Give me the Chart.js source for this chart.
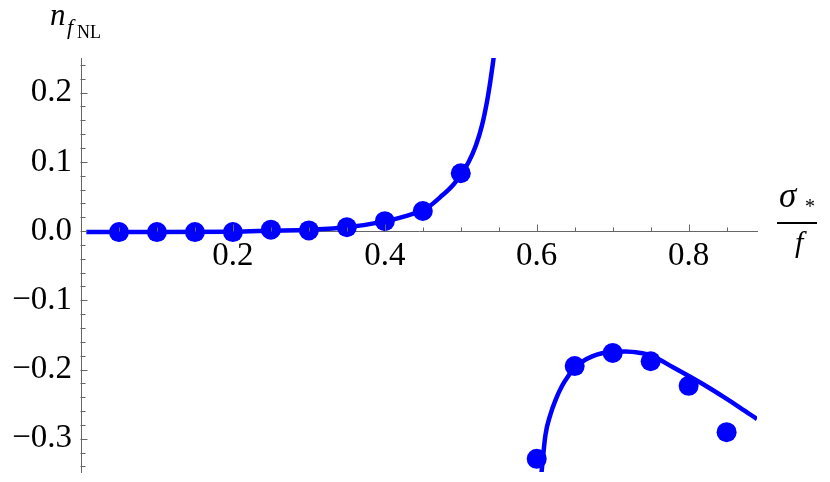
<!DOCTYPE html>
<html>
<head>
<meta charset="utf-8">
<script src="https://cdn.jsdelivr.net/npm/chart.js@4/dist/chart.umd.min.js"></script>
<style>
  html, body { margin: 0; padding: 0; background: #fff; }
  #wrap { width: 830px; height: 482px; }
</style>
</head>
<body>
<div id="wrap"><canvas id="nfnlChart" width="830" height="482"></canvas></div>
<script>
// simulated points, small sigma branch and large sigma branch
const pointX1 = [0.05, 0.1, 0.15, 0.2, 0.25, 0.3, 0.35, 0.4, 0.45, 0.5];
const pointY1 = [-0.0015, -0.0015, -0.0015, -0.0015, 0.002, 0.001, 0.0055, 0.0143, 0.029, 0.0835];
const pointX2 = [0.6, 0.65, 0.7, 0.75, 0.8, 0.85];
const pointY2 = [-0.329, -0.195, -0.176, -0.188, -0.2235, -0.2905];

// analytic curves
const curveX1 = [0.007, 0.1, 0.2, 0.25, 0.3, 0.35, 0.4, 0.425, 0.45, 0.46, 0.473, 0.489, 0.5, 0.51, 0.52, 0.528, 0.535, 0.539, 0.542, 0.545];
const curveY1 = [-0.0015, -0.0015, -0.001, 0.0005, 0.002, 0.0055, 0.014, 0.021, 0.03, 0.037, 0.049, 0.0655, 0.0815, 0.099, 0.124, 0.153, 0.19, 0.217, 0.24, 0.265];
const curveX2 = [0.606, 0.6114, 0.618, 0.6246, 0.6334, 0.642, 0.65, 0.66, 0.673, 0.686, 0.7, 0.717, 0.7363, 0.75, 0.78, 0.802, 0.824, 0.846, 0.868, 0.89];
const curveY2 = [-0.352, -0.295, -0.265, -0.2445, -0.2235, -0.2085, -0.1975, -0.1885, -0.181, -0.1765, -0.1742, -0.1738, -0.176, -0.1795, -0.197, -0.2105, -0.2245, -0.2395, -0.2552, -0.2715];

const xTicks = [0.2, 0.4, 0.6, 0.8];
const yTicks = [-0.3, -0.2, -0.1, 0, 0.1, 0.2];

const BLUE = '#0000ff';
const AXIS_COLOR = '#666666';
const SERIF = '"Liberation Serif", "DejaVu Serif", serif';

const toXY = (xs, ys) => xs.map((x, i) => ({ x: x, y: ys[i] }));
const fmt = v => (v < 0 ? '\u2212' : '') + Math.abs(v).toFixed(1);

// minor tick marks inside the axes + the axis titles
const axisDecor = {
    id: 'axisDecor',
    afterDatasetsDraw(chart) {
        const { ctx, scales: { x, y } } = chart;
        const x0 = Math.round(x.getPixelForValue(0)) - 0.5;
        const y0 = Math.round(y.getPixelForValue(0)) + 0.5;
        ctx.save();
        ctx.strokeStyle = AXIS_COLOR;
        ctx.lineWidth = 1;
        ctx.beginPath();
        for (let k = 1; k <= 17; k++) {
            const px = Math.round(x.getPixelForValue(k * 0.05)) + 0.5;
            const len = k % 4 === 0 ? 7 : 4;
            ctx.moveTo(px, y0);
            ctx.lineTo(px, y0 - len);
        }
        for (let k = -17; k <= 12; k++) {
            const py = Math.round(y.getPixelForValue(k * 0.02)) + 0.5;
            const len = k % 5 === 0 ? 7 : 5;
            ctx.moveTo(x0, py);
            ctx.lineTo(x0 + len, py);
        }
        ctx.stroke();

        ctx.fillStyle = '#000';
        ctx.textBaseline = 'alphabetic';
        // y title: n_{f_NL}
        ctx.font = 'italic 31px ' + SERIF;
        ctx.fillText('n', 50, 25);
        ctx.font = 'italic 22px ' + SERIF;
        ctx.fillText('f', 67, 34);
        ctx.font = '18px ' + SERIF;
        ctx.fillText('NL', 77, 38);
        // x title: sigma_* / f
        ctx.font = 'italic 35px ' + SERIF;
        ctx.fillText('\u03c3', 779, 207);
        ctx.font = '20px ' + SERIF;
        ctx.fillText('*', 805, 213);
        ctx.fillRect(777, 222, 40, 2);
        ctx.font = 'italic 30px ' + SERIF;
        ctx.fillText('f', 795, 252);
        ctx.restore();
    }
};

const ctx = document.getElementById('nfnlChart').getContext('2d');
new Chart(ctx, {
    type: 'scatter',
    data: {
        datasets: [
            { data: toXY(curveX1, curveY1), showLine: true, borderColor: BLUE, borderWidth: 4.5, pointRadius: 0, cubicInterpolationMode: 'monotone', order: 1 },
            { data: toXY(curveX2, curveY2), showLine: true, borderColor: BLUE, borderWidth: 4.5, pointRadius: 0, cubicInterpolationMode: 'monotone', order: 1 },
            { data: toXY(pointX1, pointY1), backgroundColor: BLUE, pointRadius: 10, pointBorderWidth: 0, order: 2 },
            { data: toXY(pointX2, pointY2), backgroundColor: BLUE, pointRadius: 10, pointBorderWidth: 0, order: 2 }
        ]
    },
    options: {
        responsive: false,
        animation: false,
        devicePixelRatio: 1,
        layout: { padding: { left: 0, right: 73, top: 58, bottom: 7 } },
        plugins: { legend: { display: false }, tooltip: { enabled: false } },
        scales: {
            x: {
                type: 'linear',
                min: 0, max: 0.89,
                position: { y: 0 },
                grid: { display: false, drawTicks: false },
                border: { display: true, color: AXIS_COLOR, width: 1 },
                ticks: { padding: 5, color: '#000', font: { family: SERIF, size: 33 }, maxRotation: 0, callback: v => fmt(v) },
                afterBuildTicks: s => { s.ticks = xTicks.map(v => ({ value: v })); },
                afterFit: s => { s.paddingLeft = 0; s.paddingRight = 0; }
            },
            y: {
                type: 'linear',
                min: -0.348, max: 0.25,
                position: 'left',
                grid: { display: false, drawTicks: false },
                border: { display: true, color: AXIS_COLOR, width: 1 },
                ticks: { padding: 9, color: '#000', font: { family: SERIF, size: 33 }, callback: v => fmt(v) },
                afterBuildTicks: s => { s.ticks = yTicks.map(v => ({ value: v })); },
                afterFit: s => { s.width = 81; s.paddingTop = 0; s.paddingBottom = 0; }
            }
        }
    },
    plugins: [axisDecor]
});
</script>
</body>
</html>
